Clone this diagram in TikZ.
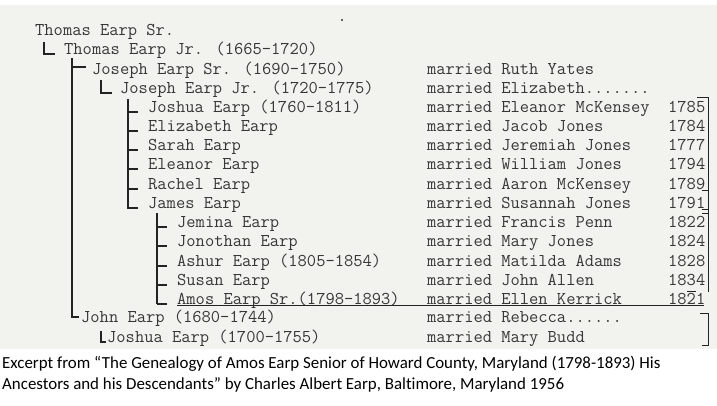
\documentclass[tikz,border=0pt]{standalone}
\usepackage{fontspec}
\newfontfamily\capfont[Ligatures=NoCommon]{Carlito}
\definecolor{paper}{RGB}{242,242,238}
\definecolor{ink}{RGB}{55,55,55}
\definecolor{lineink}{RGB}{35,35,35}
\begin{document}
\begin{tikzpicture}[x=1pt,y=-1pt,
  typed/.style={anchor=base west,inner sep=0pt,text=ink,font=\fontsize{18}{18}\selectfont\ttfamily},
  captext/.style={anchor=base west,inner sep=0pt,text=black,font=\fontsize{16.9}{20}\selectfont\capfont},
  tree/.style={draw=lineink,line width=1.1pt},
  bar/.style={draw=lineink,line width=0.9pt}]
\useasboundingbox (0,0) rectangle (717,405);
\fill[white] (0,0) rectangle (717,405);
\fill[paper] (0,5) rectangle (717,349);
\fill[ink] (342,20) circle (1.1pt);
% left column
\node[typed] (ts) at (35,35) {Thomas Earp Sr.};
\node[typed] (tj) at (64,54) {Thomas Earp Jr. (1665-1720)};
\node[typed] (js) at (92,74) {Joseph Earp Sr. (1690-1750)};
\node[typed] (jj) at (120,93) {Joseph Earp Jr. (1720-1775)};
\node[typed] (c1) at (148,112) {Joshua Earp (1760-1811)};
\node[typed] (c2) at (148,131) {Elizabeth Earp};
\node[typed] (c3) at (148,150) {Sarah Earp};
\node[typed] (c4) at (148,169) {Eleanor Earp};
\node[typed] (c5) at (148,189) {Rachel Earp};
\node[typed] (c6) at (148,208) {James Earp};
\node[typed] (g1) at (177,227) {Jemina Earp};
\node[typed] (g2) at (177,246) {Jonothan Earp};
\node[typed] (g3) at (177,266) {Ashur Earp (1805-1854)};
\node[typed] (g4) at (177,285) {Susan Earp};
\node[typed] (g5) at (177,304) {Amos Earp Sr.(1798-1893)};
\node[typed] (jo) at (81,322) {John Earp (1680-1744)};
\node[typed] (jb) at (107,342) {Joshua Earp (1700-1755)};
% married column
\node[typed] (m1) at (427,74) {married Ruth Yates};
\node[typed] (m2) at (427,93) {married Elizabeth.......};
\node[typed] (m3) at (427,112) {married Eleanor McKensey};
\node[typed] (m4) at (427,131) {married Jacob Jones};
\node[typed] (m5) at (427,150) {married Jeremiah Jones};
\node[typed] (m6) at (427,169) {married William Jones};
\node[typed] (m7) at (427,189) {married Aaron McKensey};
\node[typed] (m8) at (427,208) {married Susannah Jones};
\node[typed] (m9) at (427,227) {married Francis Penn};
\node[typed] (m10) at (427,246) {married Mary Jones};
\node[typed] (m11) at (427,266) {married Matilda Adams};
\node[typed] (m12) at (427,285) {married John Allen};
\node[typed] (m13) at (427,304) {married Ellen Kerrick};
\node[typed] (m14) at (427,322) {married Rebecca......};
\node[typed] (m15) at (427,342) {married Mary Budd};
% years
\node[typed] (y1) at (668,112) {1785};
\node[typed] (y2) at (668,131) {1784};
\node[typed] (y3) at (668,150) {1777};
\node[typed] (y4) at (668,169) {1794};
\node[typed] (y5) at (668,189) {1789};
\node[typed] (y6) at (668,208) {1791};
\node[typed] (y7) at (668,227) {1822};
\node[typed] (y8) at (668,246) {1824};
\node[typed] (y9) at (668,266) {1828};
\node[typed] (y10) at (668,285) {1834};
\node[typed] (y11) at (668,304) {1821};
% tree connectors
\draw[tree] (44,42) |- ([xshift=-9pt]tj.base west);
\draw[tree] (72,58) |- ([xshift=-2pt,yshift=5pt]jo.base west);
\draw[tree] (72,67) -- (86,67);
\draw[tree] (101,80) |- ([xshift=-8pt]jj.base west);
\draw[tree] (128,99) |- ([xshift=-10pt]c6.base west);
\foreach \c in {c1,c2,c3,c4,c5}
  \draw[tree] (128,0 |- \c.base) -- ([xshift=-10pt]\c.base west);
\draw[tree] (157,213) -- (157,304);
\foreach \c in {g1,g2,g3,g4,g5}
  \draw[tree] (157,0 |- \c.base) -- ([xshift=-10pt]\c.base west);
\draw[tree] (101,331) |- ([xshift=-1pt]jb.base west);
% underline of Amos row
\draw[bar] ([yshift=-1.5pt]g5.base west) -- ([xshift=-1pt,yshift=-1.5pt]y11.base east);
% right-hand brackets
\draw[bar] (697,97) -- (708,97) -- (708,292);
\draw[bar] (702,190) -- (708,190);
\draw[bar] (702,209) -- (708,209);
\draw[bar] (702,213) -- (708,213);
\draw[bar] (687,291) -- (696,291);
\draw[bar] (700,313) -- (708,313) -- (708,345) -- (702,345);
% caption
\node[captext] (cap1) at (2,368) {Excerpt from “The Genealogy of Amos Earp Senior of Howard County, Maryland (1798-1893) His};
\node[captext] (cap2) at (2,389) {Ancestors and his Descendants” by Charles Albert Earp, Baltimore, Maryland 1956};
\end{tikzpicture}
\end{document}
